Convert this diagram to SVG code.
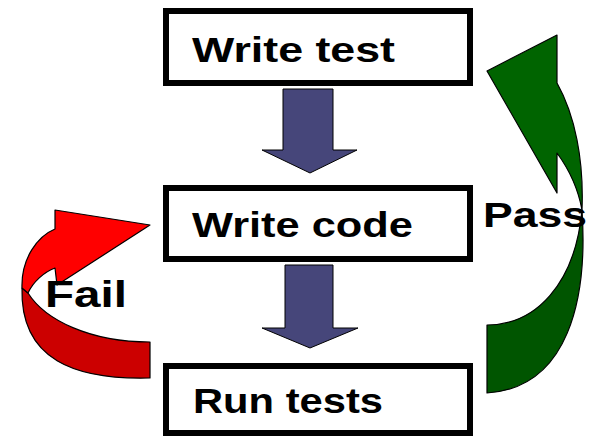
<svg xmlns="http://www.w3.org/2000/svg" width="594" height="437" viewBox="0 0 594 437">
  <style>
    .box { fill: #ffffff; stroke: #000000; stroke-width: 6; }
    .lbl { font-family: "Liberation Sans", Arial, sans-serif; font-weight: bold; font-size: 35px; fill: #000000; }
    .down { fill: #46467a; stroke: #000000; stroke-width: 1; stroke-linejoin: miter; }
    .redFront { fill: #ff0000; stroke: #000000; stroke-width: 1.2; stroke-linejoin: round; }
    .redBack { fill: #cc0000; stroke: #000000; stroke-width: 1.2; stroke-linejoin: round; }
    .greenFront { fill: #006400; stroke: #000000; stroke-width: 1.2; stroke-linejoin: round; }
    .greenBack { fill: #005500; stroke: #000000; stroke-width: 1.2; stroke-linejoin: round; }
  </style>

  <!-- connectors: straight step arrows and the two loop-back arrows -->
  <g id="connectors">
    <path class="down" d="M283,89 L333,89 L333,150 L357,150 L310,173 L262,150 L283,150 Z"/>
    <path class="down" d="M285,265 L333,265 L333,328 L358,328 L310,348 L262,328 L285,328 Z"/>

    <!-- Fail: run tests back to write code -->
    <g id="fail-arrow">
      <path class="redBack" d="M28,293 C45,320 90,342 150,342 L150,378 C75,380 20,360 22,288 Z"/>
      <path class="redFront" d="M55,210 L150,225 L57,285 L55,268 C44,272 33,282 28,293 L22,288 C21,258 38,236 55,229 Z"/>
    </g>

    <!-- Pass: run tests back to write test -->
    <g id="pass-arrow">
      <path class="greenBack" d="M582,210 C588,300 568,388 487,393 L487,325 C535,325 575,285 582,210 Z"/>
      <path class="greenFront" d="M557,35 L487,71 L557,193 L557,153 C568,168 578,188 582,210 C584,160 575,115 557,83 Z"/>
    </g>
  </g>

  <g id="write-test">
    <rect class="box" x="166" y="11" width="304" height="72"/>
    <text class="lbl" x="192" y="62" textLength="203" lengthAdjust="spacingAndGlyphs">Write test</text>
  </g>

  <g id="write-code">
    <rect class="box" x="166" y="188" width="304" height="71"/>
    <text class="lbl" x="192" y="237" textLength="221" lengthAdjust="spacingAndGlyphs">Write code</text>
  </g>

  <g id="run-tests">
    <rect class="box" x="166" y="366" width="304" height="67"/>
    <text class="lbl" x="193" y="413" textLength="190" lengthAdjust="spacingAndGlyphs">Run tests</text>
  </g>

  <g id="labels">
    <text class="lbl" x="483" y="227" textLength="104" lengthAdjust="spacingAndGlyphs">Pass</text>
    <text class="lbl" x="45" y="307" font-size="37" style="font-size:37px" textLength="82" lengthAdjust="spacingAndGlyphs">Fail</text>
  </g>
</svg>
